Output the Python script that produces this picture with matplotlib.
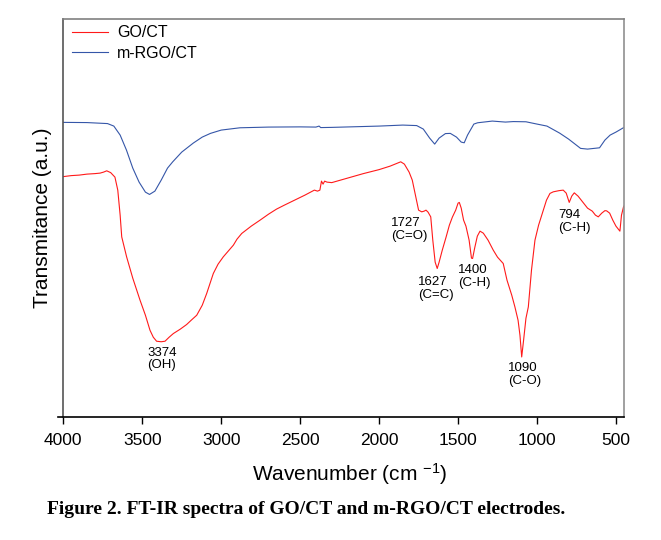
import matplotlib
matplotlib.use("Agg")
import matplotlib.pyplot as plt

# FT-IR spectra, wavenumber (cm-1) vs transmittance (arbitrary units)
go_x = [4000, 3950, 3900, 3850, 3800, 3767, 3745, 3725, 3700, 3673, 3655, 3640,
        3630, 3599, 3560, 3514, 3480, 3451, 3430, 3409, 3380, 3356, 3330, 3303,
        3260, 3219, 3190, 3155, 3120, 3092, 3070, 3050, 3020, 2987, 2950, 2923,
        2900, 2870, 2810, 2754, 2700, 2650, 2600, 2535, 2470, 2410, 2390, 2375,
        2365, 2355, 2345, 2330, 2300, 2200, 2100, 2000, 1930, 1890, 1863, 1840,
        1810, 1790, 1770, 1750, 1730, 1715, 1703, 1690, 1673, 1660, 1645, 1632,
        1620, 1600, 1576, 1555, 1536, 1515, 1500, 1492, 1480, 1465, 1450, 1430,
        1415, 1408, 1395, 1378, 1361, 1340, 1310, 1277, 1250, 1214, 1190, 1160,
        1140, 1120, 1108, 1097, 1085, 1070, 1055, 1035, 1013, 990, 960, 940,
        918, 897, 860, 834, 815, 796, 780, 764, 740, 710, 680, 650,
        630, 612, 590, 570, 559, 540, 520, 500, 485, 475, 465, 451]
go_t = [240.5, 241.5, 242, 243, 243.5, 244, 245, 246.3, 244.5, 240, 227, 202,
        180.3, 160.3, 139, 117, 102, 87, 80, 76, 75.5, 76, 80, 83.7,
        88, 92.7, 97, 102, 112, 123.7, 134, 143.7, 153, 160.3, 167, 172,
        178, 183.7, 191, 197, 203, 208, 212, 217, 222, 227, 226, 227,
        236, 233, 236, 235, 234.5, 239, 243.5, 247.5, 251, 253.5, 255.3, 253,
        245, 237, 222, 207, 205.3, 206, 207, 205, 200.3, 177, 155, 148.7,
        155, 167, 180, 192, 200, 207, 214, 214.7, 209, 197, 191, 177,
        159, 158.7, 169, 181, 186, 184, 177, 167, 160, 153.7, 137, 122,
        110.3, 97, 82, 60.3, 77, 99, 110.3, 147, 177, 192, 207, 217,
        223.7, 225.3, 226.5, 227, 224, 214.7, 221, 224.3, 221, 215, 209, 206,
        202, 200.3, 204, 206.5, 206.3, 204, 197, 191, 188, 186, 202, 211]

rgo_x = [4000, 3850, 3720, 3680, 3640, 3600, 3560, 3520, 3480, 3454, 3420, 3380,
         3340, 3307, 3250, 3177, 3120, 3068, 3000, 2881, 2700, 2500, 2400, 2380,
         2370, 2300, 2000, 1850, 1762, 1720, 1680, 1648, 1620, 1580, 1549, 1510,
         1480, 1461, 1440, 1400, 1376, 1283, 1200, 1150, 1070, 1000, 937, 857,
         800, 724, 680, 604, 570, 537, 500, 451]
rgo_t = [294.7, 294.5, 293.5, 291, 282, 267, 249, 235, 225, 222.7, 226, 237,
         249, 255.3, 265, 274, 280, 283.7, 287, 289.3, 290, 290.2, 290, 291,
         289.5, 289.7, 291, 292, 291.5, 288, 279, 273, 279, 283.5, 283.7, 280,
         275, 274.3, 282, 293, 294.3, 296, 295, 295.5, 295.3, 293, 291, 284,
         278, 268.7, 268, 269.3, 277, 282, 285, 289.5]

# peak labels: text, left x, vertical centre
peak_txt = ["3374\n(OH)", "1727\n(C=O)", "1627\n(C=C)", "1400\n(C-H)", "1090\n(C-O)", "794\n(C-H)"]
peak_x = [3468, 1925, 1754, 1500, 1185, 865]
peak_y = [58.3, 187.5, 128.3, 141, 43, 195.7]

xticks = [4000, 3500, 3000, 2500, 2000, 1500, 1000, 500]

plt.rcParams['font.family'] = ['Liberation Sans', 'DejaVu Sans']
plt.rcParams['mathtext.fontset'] = 'custom'
plt.rcParams['mathtext.rm'] = 'Liberation Sans'
plt.rcParams['mathtext.it'] = 'Liberation Sans:italic'

fig = plt.figure(figsize=(6.61, 5.40), dpi=100)
ax = fig.add_axes([63.3/661, 1-417.3/540, 560.4/661, 398.3/540])

ax.plot(go_x, go_t, color='#ff1a1a', lw=0.8, label='GO/CT')
ax.plot(rgo_x, rgo_t, color='#3556a8', lw=0.8, label='m-RGO/CT')

for txt, px, py in zip(peak_txt, peak_x, peak_y):
    ax.text(px, py, txt, ha='left', va='center', multialignment='left',
            fontsize=9.5, linespacing=1.1)

ax.set_xlim(4000, 451)
ax.set_ylim(0, 398)
ax.set_xticks(xticks)
ax.set_xticklabels([str(t) for t in xticks])
ax.set_yticks([])
ax.tick_params(axis='x', direction='out', length=5, width=1, pad=6, labelsize=12.5)

ax.spines['top'].set_color('#808080')
ax.spines['right'].set_color('#909090')
ax.spines['left'].set_color('#555555')
ax.spines['bottom'].set_color('black')
for s in ax.spines.values():
    s.set_linewidth(1.2)
ax.spines['bottom'].set_bounds(4032, 451)

ax.set_xlabel(r'Wavenumber (cm $^{\mathrm{-1}}$)', fontsize=15)
ax.xaxis.label.set_va('center')
ax.xaxis.set_label_coords(0.5116, -0.1424)
ax.set_ylabel('Transmitance (a.u.)', fontsize=15, labelpad=8)

leg = ax.legend(loc='upper left', bbox_to_anchor=(0.015, 0.984), frameon=False,
                fontsize=11.5, handlelength=2.3, handletextpad=0.55,
                labelspacing=0.35, borderpad=0, borderaxespad=0)

fig.text(306/661, 1-509/540, 'Figure 2. FT-IR spectra of GO/CT and m-RGO/CT electrodes.',
         ha='center', va='center', fontsize=14, fontweight='bold',
         family=['Liberation Serif', 'DejaVu Serif'])

fig.savefig('out.png', dpi=100)
